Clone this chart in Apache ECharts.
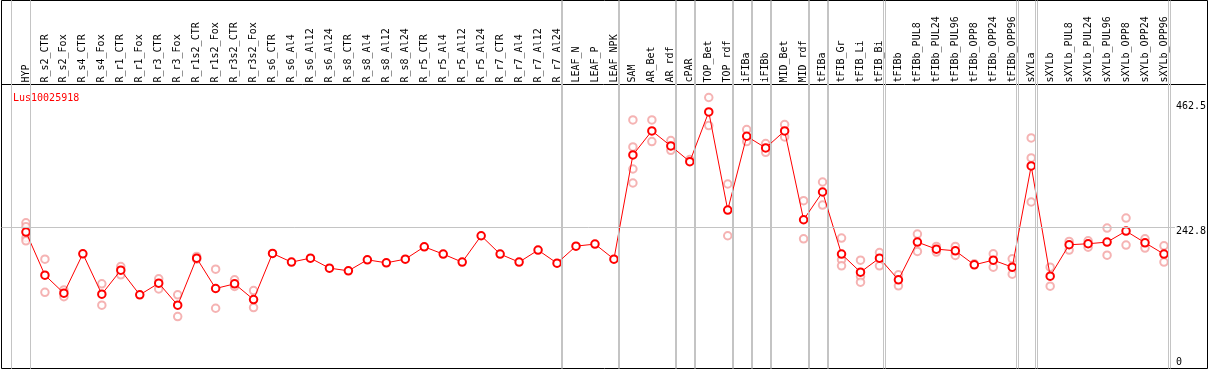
<!DOCTYPE html>
<html><head><meta charset="utf-8">
<script src="https://cdn.jsdelivr.net/npm/echarts@6/dist/echarts.min.js"></script>
<style>html,body{margin:0;padding:0;background:#fff}#c{width:1209px;height:370px}</style>
</head><body><div id="c"></div>
<script>
const geneName = 'Lus10025918';
const categories = ['HYP','R_s2_CTR','R_s2_Fox','R_s4_CTR','R_s4_Fox','R_r1_CTR','R_r1_Fox','R_r3_CTR','R_r3_Fox','R_r1s2_CTR','R_r1s2_Fox','R_r3s2_CTR','R_r3s2_Fox','R_s6_CTR','R_s6_Al4','R_s6_Al12','R_s6_Al24','R_s8_CTR','R_s8_Al4','R_s8_Al12','R_s8_Al24','R_r5_CTR','R_r5_Al4','R_r5_Al12','R_r5_Al24','R_r7_CTR','R_r7_Al4','R_r7_Al12','R_r7_Al24','LEAF_N','LEAF_P','LEAF_NPK','SAM','AR_Bet','AR_rdf','cPAR','TOP_Bet','TOP_rdf','iFIBa','iFIBb','MID_Bet','MID_rdf','tFIBa','tFIB_Gr','tFIB_Li','tFIB_Bi','tFIBb','tFIBb_PUL8','tFIBb_PUL24','tFIBb_PUL96','tFIBb_OPP8','tFIBb_OPP24','tFIBb_OPP96','sXYLa','sXYLb','sXYLb_PUL8','sXYLb_PUL24','sXYLb_PUL96','sXYLb_OPP8','sXYLb_OPP24','sXYLb_OPP96'];
const means = [235.0,157.0,124.4,195.7,122.6,166.0,121.4,142.5,102.7,187.8,132.9,141.3,112.9,196.3,180.6,187.8,169.7,164.9,184.8,179.3,186.0,208.3,195.1,180.6,228.3,195.1,180.6,202.3,178.7,209.5,213.2,186.0,374.4,417.9,390.7,362.3,452.3,274.8,408.2,387.1,417.9,257.2,307.4,195.1,162.5,187.8,148.6,216.8,204.1,201.1,175.7,184.2,171.5,354.5,155.2,212.0,213.8,216.8,236.7,215.6,195.1];
const replicates = [
  [251.8,244.6,224.6,219.2],[186,126],[130.4,118],[],[141.3,102.7],[172.7,157.6],[],[150.4,132.2],[121.4,82.1],[190.8,186],
  [167.9,97.2],[148.6,136.5],[129.2,98.4],[],[],[],[],[],[],[],
  [],[],[],[],[],[],[],[],[],[],
  [],[],[437.8,388.9,349,323.7],[437.8,398.6],[400.4,382.8],[366],[478.3,427.5],[321.9,228.3],[420.3,398.6],[394.9,379.2],
  [429.3,407],[291.7,222.8],[325.5,283.8],[224,184.8,173.9],[184.2,154.5,144.4],[198,173.9],[157.6,137.7],[231.3,199.9],[208.9,198.7],[208.9,192.6],
  [177.5],[195.7,171.5],[186.6,158.8],[405.2,369,289.3],[171.5,137],[218,202.3],[219.2,207.7],[242.2,193.2],[260.3,211.4],[222.8,206],
  [210.1,180.6]
];
// index of the last category in each group (separator drawn after it); -1 = before the first
const groupEnds = [-1,0,28,31,34,35,37,38,39,41,42,45,52,53,60];
const yTickValues = [0, 242.8, 462.5];
const gridLineValue = 242.8;

const FONT = 'DejaVu Sans Mono';
const xMin = -1.28947, xMax = 62.18421;
const yMin = -11.775, yMax = 501.81;
const sepOffset = 4.5 / 19;

const repData = [];
replicates.forEach((arr, i) => arr.forEach(v => repData.push([i, v])));

const chart = echarts.init(document.getElementById('c'), null, {renderer: 'canvas'});
chart.setOption({
  animation: false,
  backgroundColor: '#fff',
  title: {text: geneName, left: 8, top: 88, textStyle: {color: '#ff0000', fontSize: 10, fontFamily: FONT, fontWeight: 'normal'}},
  grid: [
    {left: 1.5, right: 1.5, top: 84.5, bottom: 1.5, show: false},
    {left: 1.5, right: 1.5, top: 0.5, bottom: 1.5, show: true, borderColor: '#000', borderWidth: 1, backgroundColor: 'transparent'}
  ],
  xAxis: [
    {
      gridIndex: 0, type: 'value', min: xMin, max: xMax, position: 'top',
      axisLine: {show: true, onZero: false, lineStyle: {color: '#000', width: 1}},
      axisTick: {show: false}, splitLine: {show: false},
      axisLabel: {
        customValues: categories.map((_, i) => i),
        formatter: v => categories[Math.round(v)] || '',
        rotate: -90, margin: 2, fontFamily: FONT, fontSize: 10, color: '#000',
        showMinLabel: true, showMaxLabel: true, hideOverlap: false
      }
    },
    {gridIndex: 1, type: 'value', min: xMin, max: xMax, show: false}
  ],
  yAxis: [
    {
      gridIndex: 0, type: 'value', min: yMin, max: yMax, position: 'right',
      axisLine: {show: false, onZero: false}, axisTick: {show: false}, splitLine: {show: false},
      axisLabel: {
        customValues: yTickValues,
        formatter: v => (v === gridLineValue ? '{low|' + v + '}' : String(v)),
        rich: {low: {padding: [8, 0, 0, 0], fontFamily: FONT, fontSize: 10, color: '#000'}},
        margin: -29.5, align: 'left', fontFamily: FONT, fontSize: 10, color: '#000'
      }
    },
    {gridIndex: 1, type: 'value', min: 0, max: 1, show: false}
  ],
  series: [
    {
      type: 'line', xAxisIndex: 1, yAxisIndex: 1, silent: true, z: 1, symbol: 'none',
      lineStyle: {color: '#c4c4c4', width: 1},
      connectNulls: false,
      data: groupEnds.flatMap(i => [[i + sepOffset, 0], [i + sepOffset, 1], '-'])
    },
    {
      type: 'scatter', xAxisIndex: 0, yAxisIndex: 0, data: repData, symbol: 'emptyCircle', symbolSize: 7.5, z: 3,
      itemStyle: {color: '#f2a0a0', borderColor: '#f2a0a0', borderWidth: 1.5},
      markLine: {
        silent: true, symbol: ['none', 'none'], animation: false, precision: 6,
        label: {show: false},
        lineStyle: {color: '#c4c4c4', width: 1, type: 'solid'},
        data: [[{coord: [xMin, gridLineValue]}, {coord: [60.58, gridLineValue]}]]
      }
    },
    {
      type: 'line', xAxisIndex: 0, yAxisIndex: 0, data: means.map((v, i) => [i, v]), symbol: 'emptyCircle', symbolSize: 7.5, showAllSymbol: true, z: 4,
      lineStyle: {color: '#ff0000', width: 1},
      itemStyle: {color: '#ff0000', borderColor: '#ff0000', borderWidth: 1.6}
    }
  ]
});

// separators also placed through the main x axis scale as graphic lines
try {
  const sepLines = [];
  groupEnds.forEach(i => {
    const px = chart.convertToPixel({xAxisIndex: 0}, i + sepOffset);
    if (typeof px === 'number' && isFinite(px)) {
      const x = Math.round(px - 0.5) + 0.5;
      sepLines.push({type: 'line', silent: true, z: 10, shape: {x1: x, y1: 0.5, x2: x, y2: 368.5}, style: {stroke: '#c4c4c4', lineWidth: 1}});
    }
  });
  if (sepLines.length) chart.setOption({graphic: {elements: sepLines}});
} catch (e) {}
</script></body></html>
